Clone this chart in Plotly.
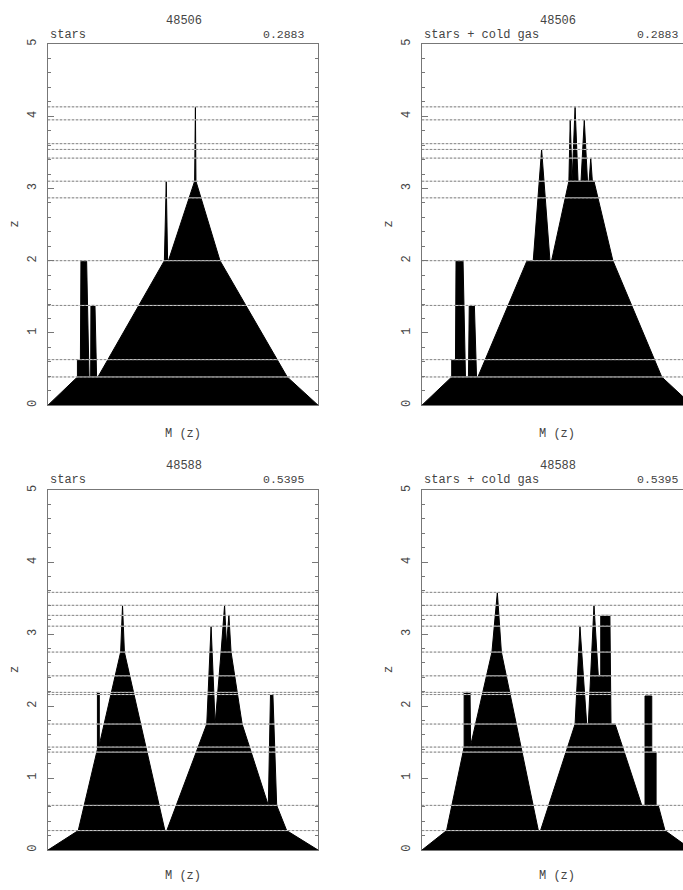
import plotly.graph_objects as go

# ---------------- data ----------------
# outlines of the mass histories: M fraction (0..1) and redshift z
p1_m = [0.000, 0.109, 0.109, 0.120, 0.122, 0.143, 0.152, 0.158, 0.159, 0.174, 0.180, 0.185,
        0.431, 0.438, 0.443, 0.446, 0.543, 0.546, 0.548, 0.637, 0.886, 1.000]
p1_z = [0.00, 0.39, 0.63, 0.63, 2.00, 2.00, 0.39, 0.39, 1.38, 1.38, 0.39, 0.39,
        2.00, 3.10, 2.00, 2.00, 3.10, 4.13, 3.10, 2.00, 0.39, 0.00]

p2_m = [0.000, 0.110, 0.110, 0.124, 0.126, 0.152, 0.161, 0.172, 0.175, 0.194, 0.202, 0.207,
        0.389, 0.412, 0.443, 0.474, 0.480, 0.544, 0.549, 0.556, 0.567, 0.578, 0.589, 0.601,
        0.613, 0.619, 0.625, 0.631, 0.637, 0.707, 0.888, 1.000]
p2_z = [0.00, 0.39, 0.63, 0.63, 2.00, 2.00, 0.39, 0.39, 1.38, 1.38, 0.39, 0.39,
        2.00, 2.00, 3.54, 2.00, 2.00, 3.10, 3.95, 3.10, 4.13, 3.10, 3.10, 3.95,
        3.10, 3.10, 3.42, 3.10, 3.10, 2.00, 0.39, 0.00]

p3_m = [0.000, 0.112, 0.183, 0.183, 0.190, 0.190, 0.269, 0.276, 0.283, 0.433, 0.440,
        0.588, 0.604, 0.619, 0.641, 0.654, 0.661, 0.670, 0.678, 0.719, 0.816, 0.824,
        0.833, 0.847, 0.884, 1.000]
p3_z = [0.00, 0.27, 1.40, 2.19, 2.19, 1.46, 2.75, 3.40, 2.75, 0.27, 0.27,
        1.75, 3.11, 1.75, 2.75, 3.40, 2.85, 3.26, 2.75, 1.75, 0.62, 2.16,
        2.16, 0.62, 0.27, 0.00]

p4_m = [0.000, 0.091, 0.156, 0.156, 0.178, 0.180, 0.259, 0.279, 0.294, 0.431, 0.439,
        0.567, 0.585, 0.610, 0.616, 0.637, 0.653, 0.662, 0.662, 0.696, 0.700, 0.715,
        0.814, 0.826, 0.826, 0.851, 0.851, 0.867, 0.867, 0.875, 0.900, 1.000]
p4_z = [0.00, 0.27, 1.43, 2.19, 2.19, 1.45, 2.75, 3.58, 2.75, 0.27, 0.27,
        1.75, 3.11, 1.75, 1.75, 3.40, 2.42, 2.42, 3.26, 3.26, 1.75, 1.75,
        0.62, 0.62, 2.14, 2.14, 1.36, 1.36, 0.62, 0.62, 0.27, 0.00]

# snapshot redshifts (horizontal lines)
top_snap_z = [0.39, 0.63, 1.38, 2.00, 2.87, 3.10, 3.42, 3.54, 3.62, 3.95, 4.13]
bot_snap_z = [0.27, 0.62, 1.36, 1.43, 1.75, 2.16, 2.19, 2.42, 2.75, 3.11, 3.26, 3.40, 3.58]

halo_ids = ["48506", "48588"]
redshift_labels = ["0.2883", "0.5395"]
panel_labels = ["stars", "stars + cold gas"]
y_tick_vals = [0, 1, 2, 3, 4, 5]
x_label = "M (z)"
y_label = "z"

# ---------------- layout helpers ----------------
W, H = 683, 890
FONT = "Liberation Mono"
TXT = "#444444"
LINE = "#777777"

def px(x):
    return x / W

def py(y):
    return 1 - y / H

panel_left = [48, 422]          # pixel left edges of columns
panel_w = 270
row_top = [39.3, 489.0]         # pixel y of z=5
row_bot = [403.3, 851.7]        # pixel y of z=0

fig = go.Figure()

panels = [
    (p1_m, p1_z, top_snap_z, 0, 0),
    (p2_m, p2_z, top_snap_z, 0, 1),
    (p3_m, p3_z, bot_snap_z, 1, 0),
    (p4_m, p4_z, bot_snap_z, 1, 1),
]

layout_axes = {}
for i, (m, z, snaps, r, c) in enumerate(panels):
    n = "" if i == 0 else str(i + 1)
    xa, ya = "x" + n, "y" + n
    fig.add_trace(go.Scatter(x=m, y=z, mode="lines", fill="toself", fillcolor="black",
                             line=dict(color="black", width=1), xaxis=xa, yaxis=ya,
                             hoverinfo="skip"))
    lx, ly = [], []
    for s in snaps:
        lx += [0, 1, None]
        ly += [s, s, None]
    fig.add_trace(go.Scatter(x=lx, y=ly, mode="lines", line=dict(color="#d4d4d4", width=1),
                             xaxis=xa, yaxis=ya, hoverinfo="skip"))
    fig.add_trace(go.Scatter(x=lx, y=ly, mode="lines",
                             line=dict(color="#8a8a8a", width=1, dash="2px,2px"),
                             xaxis=xa, yaxis=ya, hoverinfo="skip"))

    left = panel_left[c]
    right = min(left + panel_w, W)
    xrange_max = (right - left) / panel_w
    layout_axes["xaxis" + n] = dict(
        domain=[px(left), px(right)], range=[0, xrange_max], anchor=ya,
        showgrid=False, zeroline=False, showticklabels=False, ticks="",
        showline=True, linecolor=LINE, linewidth=1, mirror=True, fixedrange=True)
    layout_axes["yaxis" + n] = dict(
        domain=[py(row_bot[r]), py(row_top[r])], range=[0, 5], anchor=xa,
        tickvals=y_tick_vals, ticktext=[str(v) for v in y_tick_vals], tickangle=-90,
        ticks="inside", ticklen=6, tickcolor=LINE, tickwidth=1,
        minor=dict(dtick=0.2, ticks="inside", ticklen=3, tickcolor=LINE),
        showline=True, linecolor=LINE, linewidth=1,
        mirror=("ticks" if c == 0 else False),
        showgrid=False, zeroline=False, fixedrange=True,
        tickfont=dict(family=FONT, size=12, color=TXT), ticklabelstandoff=6)

annotations = []
title_y = [16, 464.5]
sub_y = [30, 478.3]
xlab_y = [432.7, 878]
for r in range(2):
    for c in range(2):
        left = panel_left[c]
        annotations.append(dict(text=halo_ids[r], x=px(left + 136), y=py(title_y[r]),
                                xanchor="center", yanchor="middle"))
        annotations.append(dict(text=panel_labels[c], x=px(left), y=py(sub_y[r]),
                                xanchor="left", yanchor="middle"))
        annotations.append(dict(text=redshift_labels[r], x=px(left + 259), y=py(sub_y[r]),
                                xanchor="right", yanchor="middle",
                                font=dict(family=FONT, size=11.5, color=TXT)))
        annotations.append(dict(text=x_label, x=px(left + 135), y=py(xlab_y[r]),
                                xanchor="center", yanchor="middle"))
        annotations.append(dict(text=y_label, x=px(left - 33),
                                y=py((row_top[r] + row_bot[r]) / 2),
                                xanchor="center", yanchor="middle", textangle=-90))
for a in annotations:
    a.setdefault("font", dict(family=FONT, size=12, color=TXT))
    a.update(xref="paper", yref="paper", showarrow=False)

fig.update_layout(width=W, height=H, margin=dict(l=0, r=0, t=0, b=0),
                  paper_bgcolor="white", plot_bgcolor="white", showlegend=False,
                  annotations=annotations, **layout_axes)

fig.write_html("out.html", config={"displayModeBar": False, "staticPlot": True},
               post_script="document.body.style.margin='0';document.body.style.overflow='hidden';")
